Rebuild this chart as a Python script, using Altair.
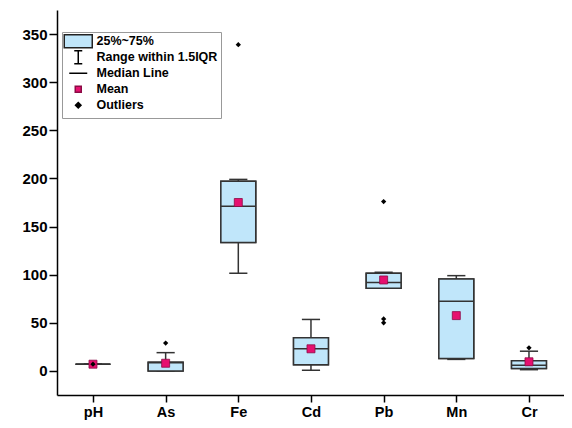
import altair as alt
import pandas as pd

categories = ["pH", "As", "Fe", "Cd", "Pb", "Mn", "Cr"]
q1 = [7, 0, 133.5, 6.5, 86, 13, 2.5]
q3 = [7, 9, 197, 34.5, 101.5, 95.5, 10.5]
median = [7, 8.5, 171, 23, 92, 72.5, 6]
mean = [7, 8, 175, 23, 94.5, 57.5, 9.5]
whisker_low = [7, 0, 101.5, 0.7, 86, 12, 1.3]
whisker_high = [7, 19, 199, 53.5, 102.5, 99, 20.5]
outlier_cat = ["pH", "As", "Fe", "Pb", "Pb", "Pb", "Cr"]
outlier_val = [7, 29, 339, 176, 54, 50, 24]

legend_labels = ["25%~75%", "Range within 1.5IQR", "Median Line", "Mean", "Outliers"]

BOX_FILL = "#C0E6FA"
EDGE = "#333333"
PINK = "#E6106F"
FONT = "Liberation Sans"

idx = {c: i for i, c in enumerate(categories)}
box_half = 0.24
cap_half = 0.125

stats = pd.DataFrame({
    "cat": categories,
    "i": list(range(len(categories))),
    "q1": q1, "q3": q3, "med": median, "mean": mean,
    "wlo": whisker_low, "whi": whisker_high,
})
stats["bl"] = stats["i"] - box_half
stats["br"] = stats["i"] + box_half
stats["cl"] = stats["i"] - cap_half
stats["cr"] = stats["i"] + cap_half

outl = pd.DataFrame({"cat": outlier_cat, "v": outlier_val})
outl["i"] = outl["cat"].map(idx)

xscale = alt.Scale(domain=[-0.495, 6.482], nice=False, zero=False)
yscale = alt.Scale(domain=[-25, 375], nice=False, zero=False)

label_arr = "[" + ",".join("'" + c + "'" for c in categories) + "]"

xaxis = alt.Axis(
    values=list(range(len(categories))),
    labelExpr=label_arr + "[datum.value]",
    title=None, grid=False, tickSize=7, labelPadding=3,
    labelFontSize=14.5, labelFontWeight="bold", labelFont=FONT, labelColor="black",
    domainColor="black", domainWidth=1.5, tickColor="black", tickWidth=1.5,
    labelFlush=False, labelOverlap=False,
)
yaxis = alt.Axis(
    values=list(range(0, 351, 25)),
    labelExpr="datum.value % 50 === 0 ? datum.label : ''",
    title=None, grid=False,
    tickSize={"condition": {"test": "datum.value % 50 === 0", "value": 8}, "value": 4},
    labelPadding=2,
    labelFontSize=15, labelFontWeight="bold", labelFont=FONT, labelColor="black",
    domainColor="black", domainWidth=1.5, tickColor="black", tickWidth=1.5,
    labelFlush=False, labelOverlap=False,
)

base = alt.Chart(stats)

boxes = base.mark_rect(fill=BOX_FILL, stroke=EDGE, strokeWidth=1.5).encode(
    x=alt.X("bl:Q", scale=xscale, axis=xaxis),
    x2="br:Q",
    y=alt.Y("q1:Q", scale=yscale, axis=yaxis),
    y2="q3:Q",
)

whisk_up = base.mark_rule(color=EDGE, strokeWidth=1.5).encode(
    x="i:Q", y="q3:Q", y2="whi:Q")
whisk_dn = base.mark_rule(color=EDGE, strokeWidth=1.5).encode(
    x="i:Q", y="wlo:Q", y2="q1:Q")
cap_up = base.mark_rule(color=EDGE, strokeWidth=1.5).encode(
    x="cl:Q", x2="cr:Q", y="whi:Q")
cap_dn = base.mark_rule(color=EDGE, strokeWidth=1.5).encode(
    x="cl:Q", x2="cr:Q", y="wlo:Q")
boxes_again = base.mark_rect(fill=BOX_FILL, stroke=EDGE, strokeWidth=1.5).encode(
    x="bl:Q", x2="br:Q", y="q1:Q", y2="q3:Q")
med = base.mark_rule(color=EDGE, strokeWidth=1.5).encode(
    x="bl:Q", x2="br:Q", y="med:Q")
means = base.mark_point(shape="square", filled=True, fill=PINK, stroke="#8C0A45",
                        strokeWidth=0.8, size=64, opacity=1).encode(
    x="i:Q", y="mean:Q")
outliers = alt.Chart(outl).mark_point(shape="diamond", filled=True, color="black",
                                      size=28, opacity=1).encode(
    x="i:Q", y="v:Q")

# legend via a dummy clipped layer; paths share the same bounding extent
legend_df = pd.DataFrame({"item": legend_labels, "i": [0] * 5, "v": [-1000] * 5})
bound = "M-2.8,-1.3M2.8,1.3"
paths = [
    "M-2.8,-1.3H2.8V1.3H-2.8Z",
    bound + "M-0.8,-1.3H0.8M0,-1.3V1.3M-0.8,1.3H0.8",
    bound + "M-1.8,0H1.8",
    bound + "M-0.6,-0.6H0.6V0.6H-0.6Z",
    bound + "M0,-0.55L0.55,0L0,0.55L-0.55,0Z",
]
fills = [BOX_FILL, "transparent", "transparent", PINK, "black"]
strokes = ["#222222", "black", "black", "#8C0A45", "black"]
legend_layer = alt.Chart(legend_df).mark_point(clip=True, opacity=1, size=100).encode(
    x="i:Q", y="v:Q",
    shape=alt.Shape("item:N", scale=alt.Scale(domain=legend_labels, range=paths), title=None),
    fill=alt.Fill("item:N", scale=alt.Scale(domain=legend_labels, range=fills), title=None),
    stroke=alt.Stroke("item:N", scale=alt.Scale(domain=legend_labels, range=strokes), title=None),
)

chart = alt.layer(
    boxes, whisk_up, whisk_dn, cap_up, cap_dn, boxes_again, med, means, outliers, legend_layer
).properties(
    width=507, height=385,
    padding={"left": 49, "top": 2, "right": 0, "bottom": 25},
    autosize=alt.AutoSizeParams(type="none"),
).configure_view(stroke=None).configure_legend(
    orient="none", legendX=5, legendY=22,
    strokeColor="#999999", fillColor="white", padding=3,
    labelFont=FONT, labelFontSize=12.5, labelFontWeight="bold", labelColor="black",
    symbolSize=100, symbolStrokeWidth=1.5, symbolOffset=7, labelOffset=12,
    rowPadding=-4.2, cornerRadius=0, labelLimit=300,
)

chart.save("out.html", embed_options={"renderer": "svg", "actions": False})
